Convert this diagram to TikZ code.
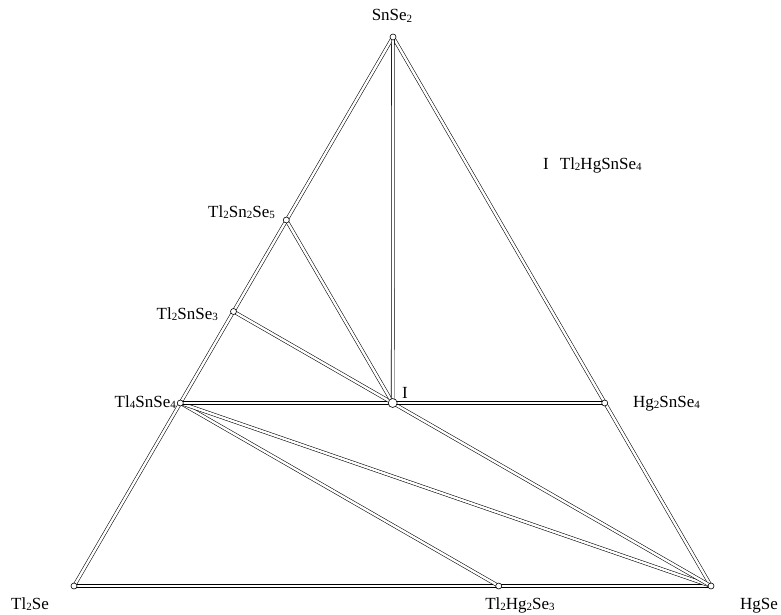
\documentclass[tikz,border=0pt]{standalone}
\usepackage{fontspec}
\setmainfont{Liberation Serif}
\usepackage{tikz}
\usetikzlibrary{positioning}

\newcommand{\ix}[1]{\raisebox{-0.15ex}{\fontsize{11}{11}\selectfont #1}}

\begin{document}
\begin{tikzpicture}[x=1pt,y=-1pt,font=\fontsize{17}{17}\selectfont]
  \tikzstyle{tie}=[draw=black,line width=0.55pt,double=white,double distance=2.4pt]
  \tikzstyle{phase}=[circle,draw,fill=white,inner sep=0pt,minimum size=6pt,line width=0.6pt]
  \tikzstyle{cmpd}=[inner sep=0pt]

  \useasboundingbox (0,0) rectangle (781,615);

  % corners and compounds
  \coordinate (SnSe2)    at (393,37);
  \coordinate (Tl2Se)    at (74,586);
  \coordinate (HgSe)     at (711,586);
  \coordinate (Tl2Sn2Se5) at (286.3,220);
  \coordinate (Tl2SnSe3) at (233.5,311.5);
  \coordinate (Tl4SnSe4) at (180.3,403);
  \coordinate (Hg2SnSe4) at (604.7,403);
  \coordinate (Tl2Hg2Se3) at (498.7,586);
  \coordinate (I)        at (392.7,403);

  % triangle
  \path[tie] (Tl2Se) -- (Tl2Hg2Se3);
  \path[tie] (Tl2Hg2Se3) -- (HgSe);
  \path[tie] (HgSe) -- (SnSe2);
  \path[tie] (SnSe2) -- (Tl2Se);

  % tie lines
  \path[tie] (Tl4SnSe4) -- (Tl2Hg2Se3);
  \path[tie] (Tl4SnSe4) -- (HgSe);
  \path[tie] (I) -- (HgSe);
  \path[tie] (Tl4SnSe4) -- (I);
  \path[tie] (I) -- (Hg2SnSe4);
  \path[tie] (Tl2SnSe3) -- (I);
  \path[tie] (Tl2Sn2Se5) -- (I);
  \path[tie] (SnSe2) -- (I);

  \foreach \p in {SnSe2,Tl2Se,HgSe,Tl2Sn2Se5,Tl2SnSe3,Tl4SnSe4,Hg2SnSe4,Tl2Hg2Se3}
    \node[phase] at (\p) {};
  \node[phase,minimum size=9pt] at (I) {};

  % labels
  \node[cmpd,anchor=base] (lSnSe2)  at (392,21)  {SnSe\ix{2}};
  \node[cmpd,anchor=base east] (lTl2Sn2Se5) at (275,217) {Tl\ix{2}Sn\ix{2}Se\ix{5}};
  \node[cmpd,anchor=base east] (lTl2SnSe3)  at (218,319) {Tl\ix{2}SnSe\ix{3}};
  \node[cmpd,anchor=base east] (lTl4SnSe4)  at (176,407) {Tl\ix{4}SnSe\ix{4}};
  \node[cmpd,anchor=base west] (lHg2SnSe4)  at (633,407) {Hg\ix{2}SnSe\ix{4}};
  \node[cmpd,anchor=base] (lI) at (405,398) {I};
  \node[cmpd,anchor=base west] (lKey) at (543,169) {I\hspace{11pt}Tl\ix{2}HgSnSe\ix{4}};
  \node[cmpd,anchor=base] (lTl2Se)    at (30,609)  {Tl\ix{2}Se};
  \node[cmpd,anchor=base] (lTl2Hg2Se3) at (520,609) {Tl\ix{2}Hg\ix{2}Se\ix{3}};
  \node[cmpd,anchor=base] (lHgSe)     at (759,609) {HgSe};
\end{tikzpicture}
\end{document}
